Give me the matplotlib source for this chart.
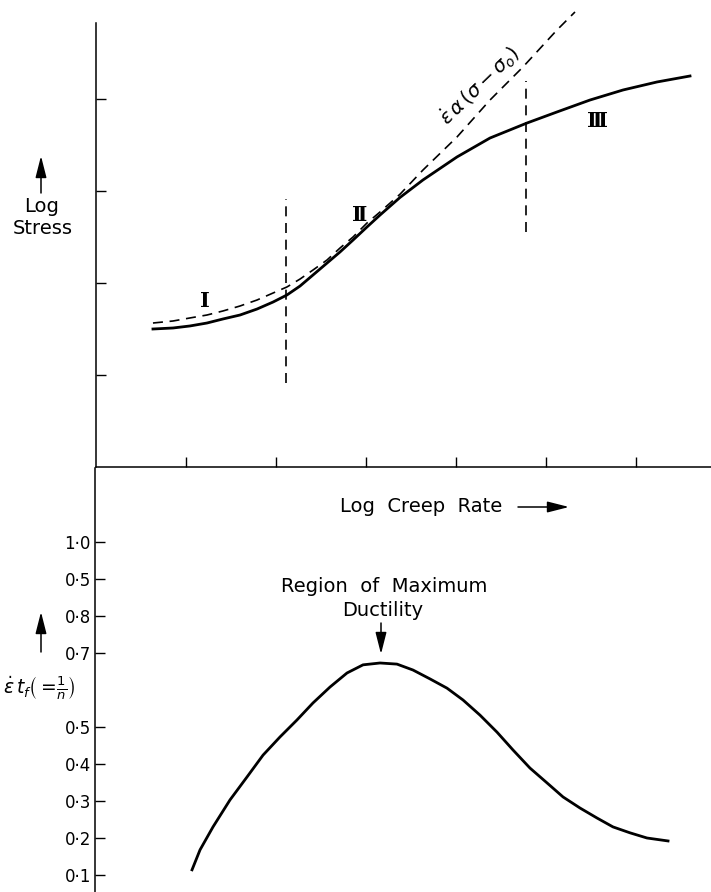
import matplotlib
matplotlib.use("Agg")
from matplotlib import pyplot as plt

W, H = 711, 892

# upper panel: log stress vs log creep rate (schematic units)
solid_x = [0.633, 0.856, 1.044, 1.233, 1.411, 1.600, 1.789, 1.967, 2.122, 2.267, 2.411,
           2.567, 2.711, 2.856, 3.011, 3.156, 3.378, 3.633, 4.011, 4.378, 4.789, 5.122,
           5.489, 5.856, 6.233, 6.600]
solid_y = [1.500, 1.511, 1.533, 1.565, 1.609, 1.652, 1.717, 1.793, 1.870, 1.967, 2.087,
           2.217, 2.337, 2.467, 2.609, 2.739, 2.930, 3.120, 3.370, 3.576, 3.739, 3.859,
           3.989, 4.098, 4.185, 4.250]

dash_x = [0.633, 0.856, 1.044, 1.233, 1.411, 1.600, 1.789, 1.967, 2.122, 2.267, 2.411,
          2.567, 2.711, 2.856, 3.011, 3.156, 3.378, 3.633, 4.011, 4.378, 4.744, 5.122,
          5.322]
dash_y = [1.565, 1.587, 1.620, 1.652, 1.696, 1.750, 1.815, 1.891, 1.957, 2.043, 2.141,
          2.250, 2.380, 2.500, 2.652, 2.772, 2.965, 3.228, 3.587, 3.989, 4.348, 4.750,
          4.946]

# region boundaries (x, ymin, ymax)
boundaries = [(2.111, 0.913, 2.913), (4.778, 2.554, 4.196)]
region_labels = ["\u2160", "\u2161", "\u2162"]
region_pos = [(1.211, 1.80), (2.933, 2.74), (5.567, 3.76)]

top_xticks = [1, 2, 3, 4, 5, 6]
top_yticks = [1, 2, 3, 4]

# lower panel: ductility vs log creep rate
duct_x = [1.067, 1.156, 1.300, 1.489, 1.678, 1.856, 2.044, 2.233, 2.411, 2.600, 2.789,
          2.967, 3.156, 3.344, 3.522, 3.711, 3.900, 4.078, 4.267, 4.456, 4.633, 4.822,
          5.011, 5.189, 5.378, 5.567, 5.744, 5.933, 6.122, 6.356]
duct_y = [0.114, 0.168, 0.230, 0.303, 0.365, 0.424, 0.473, 0.519, 0.565, 0.608, 0.646,
          0.668, 0.673, 0.670, 0.654, 0.630, 0.605, 0.573, 0.532, 0.486, 0.438, 0.389,
          0.349, 0.311, 0.281, 0.254, 0.230, 0.214, 0.200, 0.192]
duct_ticks = [0.1, 0.2, 0.3, 0.4, 0.5, 0.7, 0.8, 0.9, 1.0]
duct_labels = ["0·1", "0·2", "0·3", "0·4", "0·5", "0·7", "0·8", "0·5", "1·0"]


def fp(px, py):
    # figure pixel (from top-left) -> figure fraction
    return px / W, 1 - py / H


plt.rcParams["font.family"] = ["DejaVu Sans"]
plt.rcParams["mathtext.fontset"] = "dejavusans"

fig = plt.figure(figsize=(W / 100, H / 100), dpi=100)

dash = (0, (6, 4))

# ---- upper axes
ax = fig.add_axes([96 / W, 1 - 467 / H, (W - 96) / W, 467 / H])
ax.set_xlim(0, (W - 96) / 90)
ax.set_ylim(0, 467 / 92)
for s in ["top", "right"]:
    ax.spines[s].set_visible(False)
ax.spines["left"].set_bounds(0, 4.83)
ax.spines["left"].set_linewidth(1.1)
ax.spines["bottom"].set_linewidth(1.1)
ax.set_xticks(top_xticks)
ax.set_yticks(top_yticks)
ax.set_xticklabels([])
ax.set_yticklabels([])
ax.tick_params(direction="in", length=7, width=1.0)

ax.plot(solid_x, solid_y, color="black", lw=2.0, solid_joinstyle="round")
ax.plot(dash_x, dash_y, color="black", lw=1.2, ls=dash, clip_on=False)
for bx, y0, y1 in boundaries:
    ax.plot([bx, bx], [y0, y1], color="black", lw=1.2, ls=dash)
for lab, (lx, ly) in zip(region_labels, region_pos):
    ax.text(lx, ly, lab, fontsize=15, ha="center", va="center",
            family="DejaVu Serif", fontweight="bold")
ax.text(4.26, 4.15, r"$\dot{\varepsilon}\,\alpha\,(\sigma - \sigma_{o})$",
        fontsize=14, rotation=44, ha="center", va="center", rotation_mode="anchor")

# ---- lower axes
bx_ax = fig.add_axes([95 / W, 0, (W - 95) / W, (H - 468) / H])
bx_ax.set_xlim(-1 / 90, (W - 96) / 90)
bx_ax.set_ylim((912 - 892) / 370, (912 - 468) / 370)
for s in ["top", "right", "bottom"]:
    bx_ax.spines[s].set_visible(False)
bx_ax.spines["left"].set_linewidth(1.1)
bx_ax.set_xticks([])
bx_ax.set_yticks(duct_ticks)
bx_ax.set_yticklabels(duct_labels, fontsize=12)
bx_ax.tick_params(axis="y", direction="in", length=7, width=1.0, pad=3)
bx_ax.plot(duct_x, duct_y, color="black", lw=2.0, solid_joinstyle="round")

# ---- annotation text and arrows
fig.text(*fp(42, 207), "Log", fontsize=14, ha="center", va="center")
fig.text(*fp(43, 229), "Stress", fontsize=14, ha="center", va="center")
fig.text(*fp(421, 506), "Log  Creep  Rate", fontsize=14, ha="center", va="center")
fig.text(*fp(384, 587), "Region  of  Maximum", fontsize=14, ha="center", va="center")
fig.text(*fp(383, 611), "Ductility", fontsize=14, ha="center", va="center")
fig.text(*fp(3, 688), r"$\dot{\varepsilon}\,t_{f}\left(=\!\frac{1}{n}\right)$",
         fontsize=13.5, ha="left", va="center")

arrow = dict(arrowstyle="-|>,head_length=1.1,head_width=0.28", color="black", lw=1.1,
             shrinkA=0, shrinkB=0, mutation_scale=12)
for start, end in [((41, 193), (41, 156)), ((518, 507), (569, 507)),
                   ((41, 652), (41, 612)), ((381, 623), (381, 654))]:
    fig.add_artist(plt.matplotlib.patches.FancyArrowPatch(
        fp(*start), fp(*end), transform=fig.transFigure, **arrow))

fig.savefig("out.png", dpi=100)
